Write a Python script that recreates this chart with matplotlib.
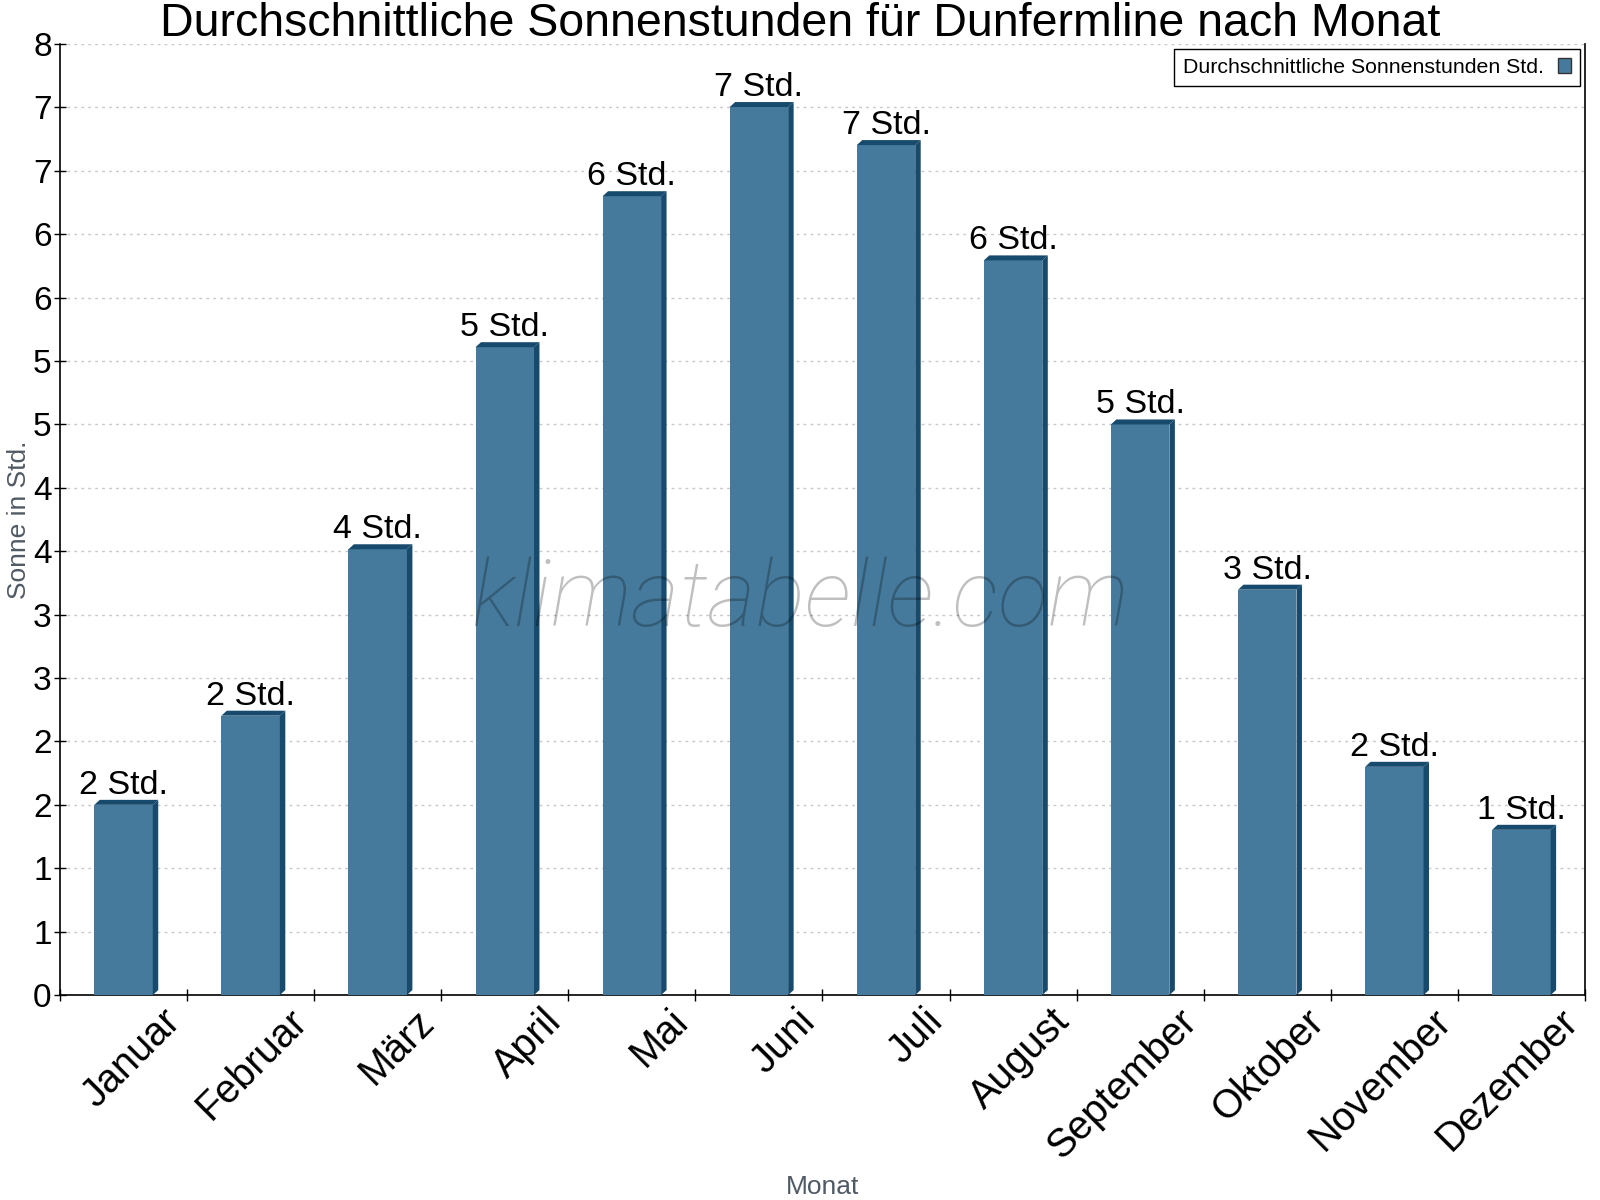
import matplotlib
matplotlib.use("Agg")
import matplotlib.pyplot as plt
import matplotlib.transforms as mtransforms
from matplotlib.patches import Polygon, Patch
import numpy as np

# data
months = ["Januar", "Februar", "März", "April", "Mai", "Juni",
          "Juli", "August", "September", "Oktober", "November", "Dezember"]
sun_hours = [1.6, 2.35, 3.75, 5.45, 6.72, 7.47, 7.15, 6.18, 4.8, 3.41, 1.92, 1.39]
bar_labels = ["2 Std.", "2 Std.", "4 Std.", "5 Std.", "6 Std.", "7 Std.",
              "7 Std.", "6 Std.", "5 Std.", "3 Std.", "2 Std.", "1 Std."]

front_col = "#467a9c"
side_col = "#174a6c"

plt.rcParams['font.family'] = ['Liberation Sans', 'DejaVu Sans']

fig = plt.figure(figsize=(16, 12), dpi=100)
ax = fig.add_axes([0.0375, 0.1708, 0.9531, 0.7925])

x = np.arange(len(months))
w = 0.46
dx, dy = 0.043, 0.042  # fake 3d depth

ax.bar(x, sun_hours, width=w, color=front_col, zorder=3)
for xi, v, lab in zip(x, sun_hours, bar_labels):
    x0, x1 = xi - w / 2, xi + w / 2
    top = Polygon([(x0, v), (x0 + dx, v + dy), (x1 + dx, v + dy), (x1, v)],
                  closed=True, facecolor=side_col, edgecolor="none", zorder=3)
    side = Polygon([(x1, 0), (x1, v), (x1 + dx, v + dy), (x1 + dx, dy)],
                   closed=True, facecolor=side_col, edgecolor="none", zorder=3)
    ax.add_patch(top)
    ax.add_patch(side)
    ax.annotate(lab, (xi, v), xytext=(0, 11), textcoords="offset pixels",
                ha="center", va="baseline", fontsize=24.5, zorder=5)

ax.set_xlim(-0.5, len(months) - 0.5)
ax.set_ylim(0, 8)

yt = np.linspace(0, 8, 16)
ax.set_yticks(yt)
ax.set_yticklabels([f"{round(t)}" for t in yt], fontsize=24)
ax.grid(axis="y", color="#c8c8c8", linestyle=(0, (2, 3)), linewidth=1, zorder=0)

# ticks at the category borders, labels rotated under the bars
ax.set_xticks(np.arange(-0.5, len(months), 1.0))
ax.set_xticklabels([])
ax.set_xticks(x, minor=True)
ax.set_xticklabels(months, minor=True, rotation=45, ha="right",
                   rotation_mode="anchor", fontsize=28.5)
ax.tick_params(axis="x", which="minor", length=0, pad=5)
offset = mtransforms.ScaledTranslation(0.37, 0, fig.dpi_scale_trans)
for lbl in ax.get_xticklabels(minor=True):
    lbl.set_transform(lbl.get_transform() + offset)
ax.tick_params(axis="both", which="major", direction="inout", length=8,
               width=1, color="black", pad=2)

for s in ["left", "bottom", "right"]:
    ax.spines[s].set_color("black")
    ax.spines[s].set_linewidth(1.2)
ax.spines["top"].set_visible(False)

ax.set_ylabel("Sonne in Std.", fontsize=19, color="#505a64")
ax.set_xlabel("Monat", fontsize=19, color="#505a64")
ax.xaxis.set_label_coords(0.5, -0.189)
ax.yaxis.set_label_coords(-0.019, 0.5)

fig.suptitle("Durchschnittliche Sonnenstunden für Dunfermline nach Monat",
             fontsize=33.5, y=0.998, va="top")

handle = Patch(facecolor=front_col, edgecolor="#333333", linewidth=1)
leg = ax.legend([handle], ["Durchschnittliche Sonnenstunden Std."],
                loc="upper right", markerfirst=False, fontsize=15.3,
                fancybox=False, edgecolor="black", framealpha=1,
                borderaxespad=0.25, handlelength=0.6, handleheight=0.75,
                handletextpad=0.7, borderpad=0.4)
leg.get_frame().set_linewidth(1)

ax.text(0.485, 0.415, "klimatabelle.com", transform=ax.transAxes,
        fontsize=67, family="Roboto", style="italic", weight="light",
        color="black", alpha=0.25, ha="center", va="center", zorder=6)

fig.savefig("out.png", dpi=100)
